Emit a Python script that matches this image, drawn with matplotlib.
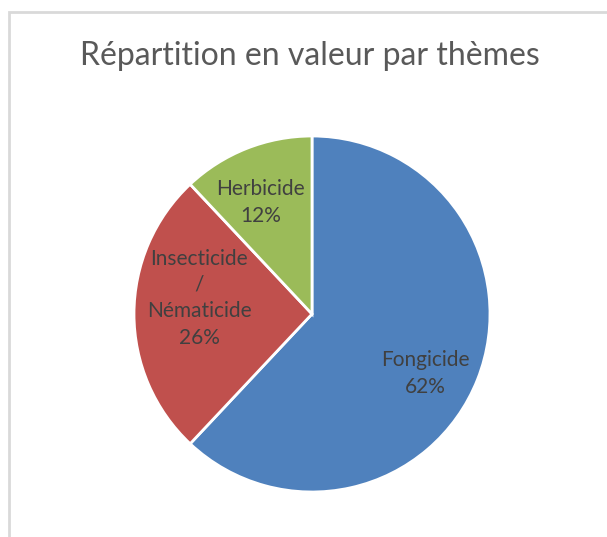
import numpy as np
import matplotlib.pyplot as plt

# data
themes = ["Fongicide", "Insecticide\n/\nNématicide", "Herbicide"]
shares = [62, 26, 12]
colors = ["#4F81BD", "#C0504D", "#9BBB59"]

plt.rcParams['font.family'] = ['Lato', 'DejaVu Sans']

W, H = 607, 537
fig = plt.figure(figsize=(W / 100, H / 100), dpi=100)

# light grey chart frame (left and top edges visible)
frame = plt.Rectangle((9 / W, -0.1), 1.2, 1 - 12 / H + 0.1, transform=fig.transFigure,
                      fill=False, edgecolor="#D9D9D9", linewidth=2)
fig.add_artist(frame)

fig.text(310 / W, 1 - 56 / H, "Répartition en valeur par thèmes", ha='center', va='center',
         fontsize=23, color="#595959")

cx, cy, r = 312, 314, 178
ax = fig.add_axes([(cx - r) / W, (H - cy - r) / H, 2 * r / W, 2 * r / H])
labels = [f"{t}\n{s}%" for t, s in zip(themes, shares)]
wedges, texts = ax.pie(shares, labels=labels, colors=colors, startangle=90, counterclock=False,
                       radius=1, labeldistance=0.68,
                       wedgeprops=dict(edgecolor="white", linewidth=2),
                       textprops=dict(ha='center', va='center', fontsize=15, color="#404040",
                                      linespacing=1.4))
# excel "best fit" placement: (distance from centre, angle shift from wedge middle)
label_fit = [(0.72, -6), (0.64, -8), (0.69, 3)]
for w, t, (d, shift) in zip(wedges, texts, label_fit):
    mid = np.deg2rad((w.theta1 + w.theta2) / 2 + shift)
    t.set_position((d * np.cos(mid), d * np.sin(mid)))

ax.set_xlim(-1, 1)
ax.set_ylim(-1, 1)
ax.set_aspect('equal')
ax.axis('off')

fig.savefig("out.png", dpi=100)
